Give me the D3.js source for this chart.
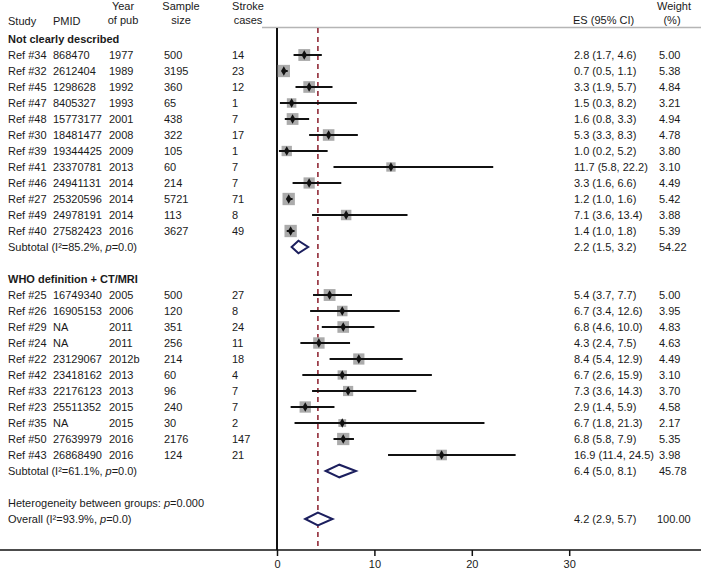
<!DOCTYPE html>
<html><head><meta charset="utf-8">
<script src="https://cdn.jsdelivr.net/npm/d3@7"></script>
<style>body{margin:0;background:#fff}svg{display:block}text{font-family:"Liberation Sans",Arial,sans-serif;font-size:11px;fill:#1a1a1a}</style>
</head><body><svg id="c" width="701" height="573"></svg>
<script>
const groups = ["Not clearly described", "WHO definition + CT/MRI"];
const groupOf = [0,0,0,0,0,0,0,0,0,0,0,0, 1,1,1,1,1,1,1,1,1,1,1];
const study = ["Ref #34","Ref #32","Ref #45","Ref #47","Ref #48","Ref #30","Ref #39","Ref #41","Ref #46","Ref #27","Ref #49","Ref #40",
  "Ref #25","Ref #26","Ref #29","Ref #24","Ref #22","Ref #42","Ref #33","Ref #23","Ref #35","Ref #50","Ref #43"];
const pmid = ["868470","2612404","1298628","8405327","15773177","18481477","19344425","23370781","24941131","25320596","24978191","27582423",
  "16749340","16905153","NA","NA","23129067","23418162","22176123","25511352","NA","27639979","26868490"];
const year = ["1977","1989","1992","1993","2001","2008","2009","2013","2014","2014","2014","2016",
  "2005","2006","2011","2011","2012b","2013","2013","2015","2015","2016","2016"];
const sampleSize = ["500","3195","360","65","438","322","105","60","214","5721","113","3627",
  "500","120","351","256","214","60","96","240","30","2176","124"];
const strokeCases = ["14","23","12","1","7","17","1","7","7","71","8","49",
  "27","8","24","11","18","4","7","7","2","147","21"];
const es = [2.8,0.7,3.3,1.5,1.6,5.3,1.0,11.7,3.3,1.2,7.1,1.4, 5.4,6.7,6.8,4.3,8.4,6.7,7.3,2.9,6.7,6.8,16.9];
const lo = [1.7,0.5,1.9,0.3,0.8,3.3,0.2,5.8,1.6,1.0,3.6,1.0, 3.7,3.4,4.6,2.4,5.4,2.6,3.6,1.4,1.8,5.8,11.4];
const hi = [4.6,1.1,5.7,8.2,3.3,8.3,5.2,22.2,6.6,1.6,13.4,1.8, 7.7,12.6,10.0,7.5,12.9,15.9,14.3,5.9,21.3,7.9,24.5];
const weight = ["5.00","5.38","4.84","3.21","4.94","4.78","3.80","3.10","4.49","5.42","3.88","5.39",
  "5.00","3.95","4.83","4.63","4.49","3.10","3.70","4.58","2.17","5.35","3.98"];
const subLabel = ["85.2","61.1"];
const subES = [2.2,6.4], subLo = [1.5,5.0], subHi = [3.2,8.1], subW = ["54.22","45.78"];
const overallES = 4.2, overallLo = 2.9, overallHi = 5.7, overallI2 = "93.9";
const hetP = "0.000";
const xTicks = [0,10,20,30];

const svg = d3.select("#c");
const x = d3.scaleLinear().domain([0,30]).range([277, 569.2]);
const y = d3.scaleLinear().domain([0,1]).range([39, 55]); // row index -> y
const fmt = d => d.toFixed(1);
const sq = d3.scaleSqrt().domain([0,1]).range([0,5.3]);

// build rows
const rows = [];
let r = 0;
groups.forEach((g, gi) => {
  rows.push({type:"header", text:g, i:r++});
  groupOf.forEach((go, k) => { if (go === gi) rows.push({type:"study", k, i:r++}); });
  rows.push({type:"sub", gi, i:r++});
  r++;
});
const hetRow = r++, overallRow = r++;

// top gray line
svg.append("line").attr("x1",262).attr("x2",701).attr("y1",27.5).attr("y2",27.5)
  .attr("stroke","#b5b5b5").attr("stroke-width",1.5);

// column headers
const hdr = svg.append("g");
const ht = (t,xx,yy,anchor) => hdr.append("text").attr("x",xx).attr("y",yy).attr("dy","0.35em").attr("text-anchor",anchor||"start").text(t);
ht("Study",8,21); ht("PMID",53,21);
ht("Year",123,6,"middle"); ht("of pub",123,20,"middle");
ht("Sample",181,6,"middle"); ht("size",181,20,"middle");
ht("Stroke",248,6,"middle"); ht("cases",248,20,"middle");
ht("ES (95% CI)",573,20); ht("Weight",674,6,"middle"); ht("(%)",672,20,"middle");

// dashed overall line
svg.append("line").attr("x1",x(overallES)).attr("x2",x(overallES)).attr("y1",28).attr("y2",550)
  .attr("stroke","#8a1c2a").attr("stroke-width",1.5).attr("stroke-dasharray","5,4");

// vertical null line
svg.append("line").attr("x1",x(0)).attr("x2",x(0)).attr("y1",28).attr("y2",550)
  .attr("stroke","#111").attr("stroke-width",2);

const tg = svg.append("g");
rows.forEach(row => {
  const yy = y(row.i);
  if (row.type === "header") {
    tg.append("text").attr("x",8).attr("y",yy).attr("dy","0.35em").attr("font-weight","bold").style("font-weight","bold").text(row.text);
  } else if (row.type === "study") {
    const k = row.k;
    [[study[k],8],[pmid[k],53],[year[k],109],[sampleSize[k],164],[strokeCases[k],232]].forEach(([t,xx]) =>
      tg.append("text").attr("x",xx).attr("y",yy).attr("dy","0.35em").text(t));
    tg.append("text").attr("x",574).attr("y",yy).attr("dy","0.35em").text(`${fmt(es[k])} (${fmt(lo[k])}, ${fmt(hi[k])})`);
    tg.append("text").attr("x",659).attr("y",yy).attr("dy","0.35em").text(weight[k]);
    const s = sq(+weight[k]);
    svg.append("rect").attr("x",x(es[k])-s/2).attr("y",yy-s/2).attr("width",s).attr("height",s).attr("fill","#ababab");
    svg.append("line").attr("x1",x(lo[k])).attr("x2",x(hi[k])).attr("y1",yy).attr("y2",yy).attr("stroke","#111").attr("stroke-width",2);
    svg.append("path").attr("d",d3.symbol(d3.symbolDiamond,26)()).attr("transform",`translate(${x(es[k])},${yy})`).attr("fill","#111");
  } else if (row.type === "sub") {
    const gi = row.gi;
    const t = tg.append("text").attr("x",8).attr("y",yy).attr("dy","0.35em");
    t.append("tspan").text(`Subtotal  (I\u00B2=${subLabel[gi]}%, `);
    t.append("tspan").attr("font-style","italic").text("p");
    t.append("tspan").text("=0.0)");
    tg.append("text").attr("x",574).attr("y",yy).attr("dy","0.35em").text(`${fmt(subES[gi])} (${fmt(subLo[gi])}, ${fmt(subHi[gi])})`);
    tg.append("text").attr("x",659).attr("y",yy).attr("dy","0.35em").text(subW[gi]);
    drawDiamond(subLo[gi], subES[gi], subHi[gi], yy);
  }
});

function drawDiamond(l, m, h, yy) {
  const hh = 6.3;
  svg.append("path").attr("d", `M${x(l)},${yy}L${x(m)},${yy-hh}L${x(h)},${yy}L${x(m)},${yy+hh}Z`)
    .attr("fill","#fff").attr("stroke","#1c1f5e").attr("stroke-width",2).attr("stroke-linejoin","miter");
}

// heterogeneity & overall
{
  const t = tg.append("text").attr("x",8).attr("y",y(hetRow)).attr("dy","0.35em");
  t.append("tspan").text("Heterogeneity between groups: ");
  t.append("tspan").attr("font-style","italic").text("p");
  t.append("tspan").text("=" + hetP);
  const o = tg.append("text").attr("x",8).attr("y",y(overallRow)).attr("dy","0.35em");
  o.append("tspan").text(`Overall  (I\u00B2=${overallI2}%, `);
  o.append("tspan").attr("font-style","italic").text("p");
  o.append("tspan").text("=0.0)");
  tg.append("text").attr("x",574).attr("y",y(overallRow)).attr("dy","0.35em").text(`${fmt(overallES)} (${fmt(overallLo)}, ${fmt(overallHi)})`);
  tg.append("text").attr("x",657).attr("y",y(overallRow)).attr("dy","0.35em").text("100.00");
  drawDiamond(overallLo, overallES, overallHi, y(overallRow));
}

// x axis
svg.append("line").attr("x1",0).attr("x2",701).attr("y1",550).attr("y2",550).attr("stroke","#111").attr("stroke-width",1.5);
const ax = svg.append("g").attr("transform","translate(0,550)")
  .call(d3.axisBottom(x).tickValues(xTicks).tickSize(6).tickPadding(4).tickFormat(d3.format("d")));
ax.select(".domain").remove();
ax.selectAll(".tick line").attr("stroke","#111").attr("stroke-width",1.5);
ax.selectAll(".tick text").attr("font-size",11).attr("fill","#1a1a1a").style("font-family","'Liberation Sans',Arial,sans-serif");
</script></body></html>
